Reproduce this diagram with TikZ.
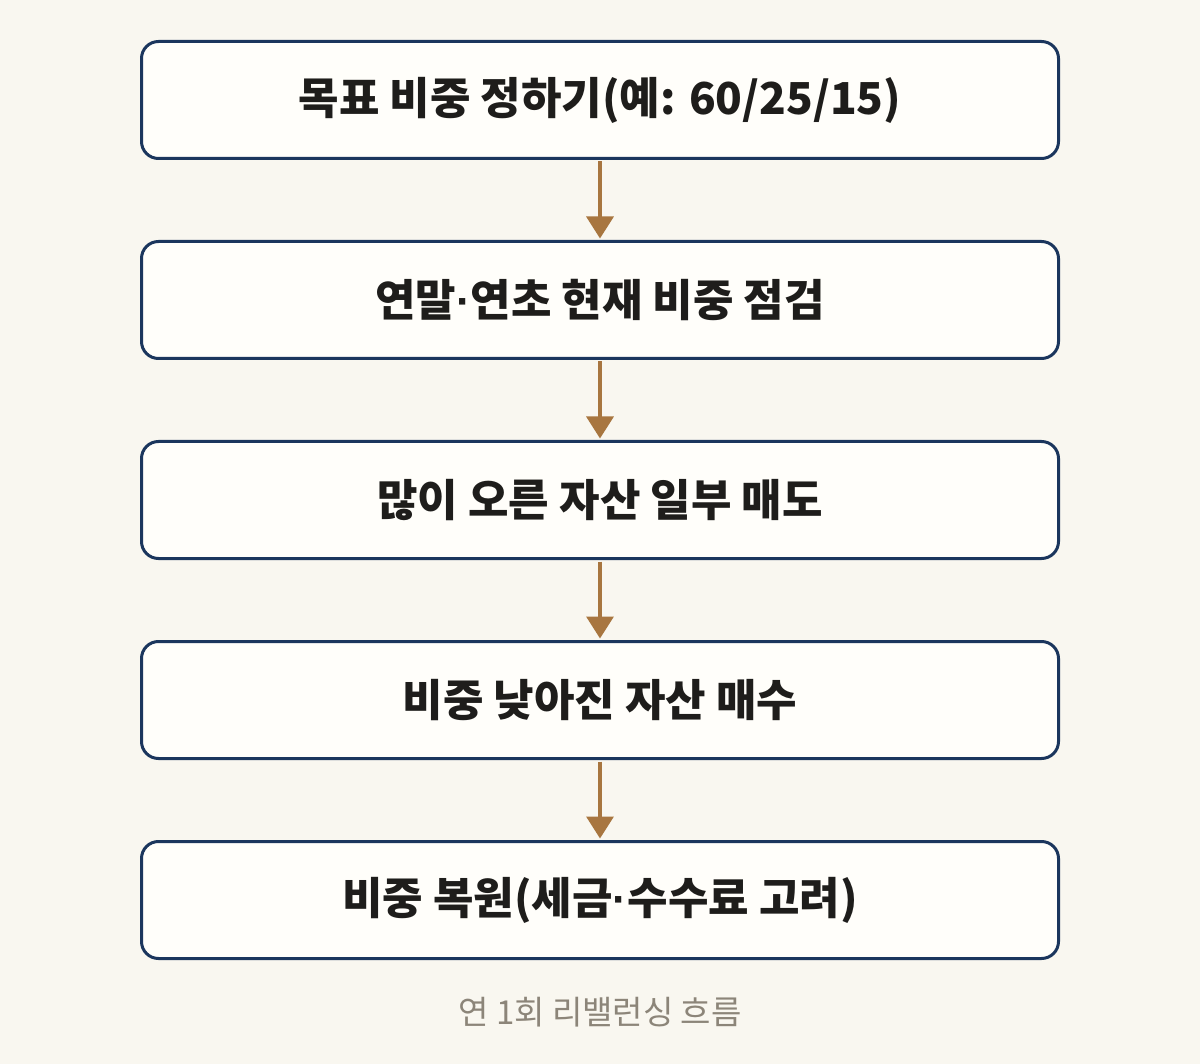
\documentclass[tikz,border=0pt]{standalone}
\usepackage{fontspec}
\setmainfont{Noto Sans CJK KR}
\newfontfamily\dotfont{Liberation Sans}
\newcommand{\mdot}{{\dotfont\bfseries ·}}
\usetikzlibrary{arrows.meta}
\definecolor{bgc}{HTML}{F9F7F0}
\definecolor{boxfill}{HTML}{FFFEFA}
\definecolor{navy}{HTML}{1B365D}
\definecolor{brownarrow}{HTML}{A87640}
\definecolor{txt}{HTML}{1E1D1B}
\definecolor{capc}{HTML}{8C8579}
\tikzset{
  stepbox/.style={draw=navy, line width=3pt, fill=boxfill, rounded corners=17pt,
    minimum width=917pt, minimum height=117pt, inner sep=0pt,
    text=txt, font=\fontsize{44}{50}\selectfont\bfseries},
  flowarrow/.style={draw=brownarrow, line width=3.5pt,
    -{Triangle[width=27pt,length=22pt]}, shorten <=1.5pt, shorten >=1.5pt},
  captext/.style={text=capc, font=\fontsize{33}{38}\selectfont}
}
\begin{document}
\begin{tikzpicture}[x=1pt,y=-1pt]
\fill[bgc] (0,0) rectangle (1200,1064);
\useasboundingbox (0,0) rectangle (1200,1064);
\node[stepbox] (s1) at (600,100) {목표 비중 정하기(예: 60/25/15)};
\node[stepbox] (s2) at (600,300) {연말\mdot 연초 현재 비중 점검};
\node[stepbox] (s3) at (600,500) {많이 오른 자산 일부 매도};
\node[stepbox] (s4) at (600,700) {비중 낮아진 자산 매수};
\node[stepbox] (s5) at (600,900) {비중 복원(세금\mdot 수수료 고려)};
\draw[flowarrow] (s1.south) -- (s2.north);
\draw[flowarrow] (s2.south) -- (s3.north);
\draw[flowarrow] (s3.south) -- (s4.north);
\draw[flowarrow] (s4.south) -- (s5.north);
\node[captext] (cap) at (600,1012) {연 1회 리밸런싱 흐름};
\end{tikzpicture}
\end{document}
